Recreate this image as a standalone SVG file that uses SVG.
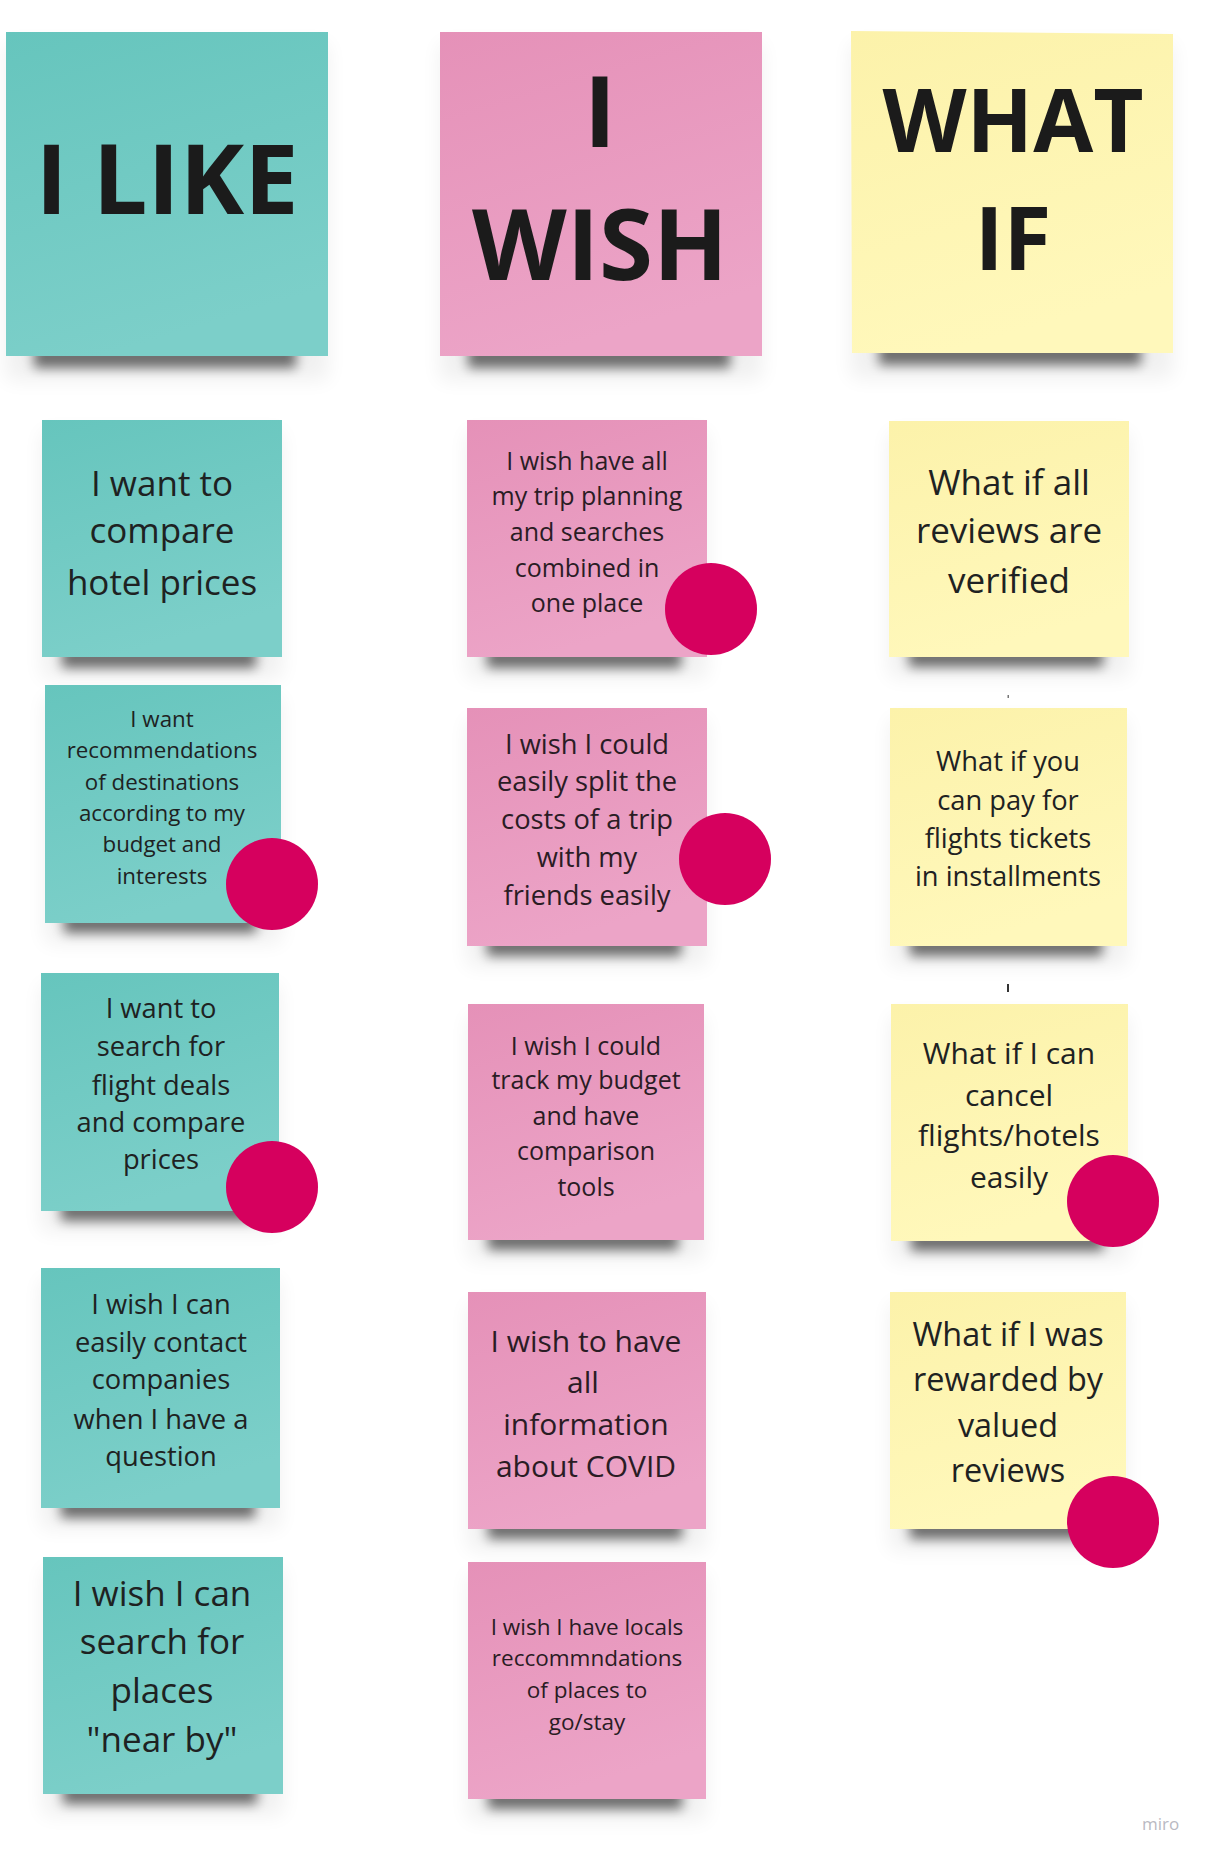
<svg xmlns="http://www.w3.org/2000/svg" width="1210" height="1859" viewBox="0 0 1210 1859">
  <defs>
    <linearGradient id="gTeal" x1="0" y1="0" x2="0.3" y2="1">
      <stop offset="0" stop-color="#66c5bd"/>
      <stop offset="1" stop-color="#7ccfc9"/>
    </linearGradient>
    <linearGradient id="gPink" x1="0" y1="0" x2="0.3" y2="1">
      <stop offset="0" stop-color="#e591b8"/>
      <stop offset="1" stop-color="#eca4c7"/>
    </linearGradient>
    <linearGradient id="gYellow" x1="0" y1="0" x2="0.3" y2="1">
      <stop offset="0" stop-color="#fcf2aa"/>
      <stop offset="1" stop-color="#fff8bb"/>
    </linearGradient>
    <filter id="fShadow" x="-20%" y="-150%" width="140%" height="400%">
      <feGaussianBlur stdDeviation="6"/>
    </filter>
    <filter id="fHalo" x="-30%" y="-30%" width="160%" height="160%">
      <feGaussianBlur stdDeviation="10"/>
    </filter>
  </defs>
  <style>
    .teal { fill: url(#gTeal); }
    .pink { fill: url(#gPink); }
    .yellow { fill: url(#gYellow); }
    .halo { fill: #000; opacity: 0.06; filter: url(#fHalo); }
    .shadow { fill: #000; opacity: 0.55; filter: url(#fShadow); }
    .dot { fill: #d6005e; }
    .head { font-family: "Open Sans", "Liberation Sans", sans-serif; font-weight: 700; fill: #1b1b1b; text-anchor: middle; }
    .txt { font-family: "Open Sans", "Liberation Sans", sans-serif; font-weight: 400; fill: #1e2222; text-anchor: middle; }
    .pt { fill: #2a1c24; }
    .wm { font-family: "Open Sans", "Liberation Sans", sans-serif; font-size: 17px; fill: #b9b9c2; }
  </style>
  <rect width="1210" height="1859" fill="#ffffff"/>

  <!-- Column headers -->
  <g id="head-like">
    <rect class="halo" x="6" y="44" width="322" height="336"/>
    <rect class="shadow" x="34" y="346" width="262" height="22"/>
    <rect class="teal" x="6" y="32" width="322" height="324"/>
    <text class="head" x="167" y="214" font-size="97">I LIKE</text>
  </g>
  <g id="head-wish">
    <rect class="halo" x="440" y="44" width="322" height="336"/>
    <rect class="shadow" x="468" y="346" width="262" height="22"/>
    <rect class="pink" x="440" y="32" width="322" height="324"/>
    <text class="head" x="600" y="147" font-size="98">I</text>
    <text class="head" x="600" y="280" font-size="98">WISH</text>
  </g>
  <g id="head-whatif">
    <rect class="halo" x="851" y="44" width="322" height="334"/>
    <rect class="shadow" x="879" y="343" width="262" height="22"/>
    <polygon class="yellow" points="851,31 1173,34 1173,353 852,353"/>
    <text class="head" x="1013" y="152" font-size="87">WHAT</text>
    <text class="head" x="1013" y="270" font-size="87">IF</text>
  </g>

  <!-- I LIKE column -->
  <g id="like-1">
    <rect class="halo" x="42" y="432" width="240" height="246"/>
    <rect class="shadow" x="62" y="648" width="194" height="20"/>
    <rect class="teal" x="42" y="420" width="240" height="237"/>
    <text class="txt" font-size="35"><tspan x="162" y="496">I want to</tspan><tspan x="162" y="543">compare</tspan><tspan x="162" y="595">hotel prices</tspan></text>
  </g>
  <g id="like-2">
    <rect class="halo" x="45" y="697" width="236" height="246"/>
    <rect class="shadow" x="64" y="913" width="192" height="20"/>
    <rect class="teal" x="45" y="685" width="236" height="238"/>
    <text class="txt" font-size="22.3"><tspan x="162" y="727">I want</tspan><tspan x="162" y="758">recommendations</tspan><tspan x="162" y="790">of destinations</tspan><tspan x="162" y="821">according to my</tspan><tspan x="162" y="852">budget and</tspan><tspan x="162" y="884">interests</tspan></text>
    <circle class="dot" cx="272" cy="884" r="46"/>
  </g>
  <g id="like-3">
    <rect class="halo" x="41" y="985" width="238" height="246"/>
    <rect class="shadow" x="61" y="1201" width="194" height="20"/>
    <rect class="teal" x="41" y="973" width="238" height="238"/>
    <text class="txt" font-size="27.3"><tspan x="161" y="1018">I want to</tspan><tspan x="161" y="1056">search for</tspan><tspan x="161" y="1095">flight deals</tspan><tspan x="161" y="1132">and compare</tspan><tspan x="161" y="1169">prices</tspan></text>
    <circle class="dot" cx="272" cy="1187" r="46"/>
  </g>
  <g id="like-4">
    <rect class="halo" x="41" y="1280" width="239" height="248"/>
    <rect class="shadow" x="61" y="1498" width="194" height="20"/>
    <rect class="teal" x="41" y="1268" width="239" height="240"/>
    <text class="txt" font-size="27.3"><tspan x="161" y="1314">I wish I can</tspan><tspan x="161" y="1352">easily contact</tspan><tspan x="161" y="1389">companies</tspan><tspan x="161" y="1429">when I have a</tspan><tspan x="161" y="1466">question</tspan></text>
  </g>
  <g id="like-5">
    <rect class="halo" x="43" y="1569" width="240" height="246"/>
    <rect class="shadow" x="63" y="1784" width="194" height="20"/>
    <rect class="teal" x="43" y="1557" width="240" height="237"/>
    <text class="txt" font-size="35"><tspan x="162" y="1606">I wish I can</tspan><tspan x="162" y="1654">search for</tspan><tspan x="162" y="1703">places</tspan><tspan x="162" y="1752">"near by"</tspan></text>
  </g>

  <!-- I WISH column -->
  <g id="wish-1">
    <rect class="halo" x="467" y="432" width="240" height="246"/>
    <rect class="shadow" x="487" y="648" width="194" height="20"/>
    <rect class="pink" x="467" y="420" width="240" height="237"/>
    <text class="txt pt" font-size="25"><tspan x="587" y="470">I wish have all</tspan><tspan x="587" y="505">my trip planning</tspan><tspan x="587" y="541">and searches</tspan><tspan x="587" y="577">combined in</tspan><tspan x="587" y="612">one place</tspan></text>
    <circle class="dot" cx="711" cy="609" r="46"/>
  </g>
  <g id="wish-2">
    <rect class="halo" x="467" y="720" width="240" height="246"/>
    <rect class="shadow" x="487" y="936" width="194" height="20"/>
    <rect class="pink" x="467" y="708" width="240" height="238"/>
    <text class="txt pt" font-size="27.3"><tspan x="587" y="754">I wish I could</tspan><tspan x="587" y="791">easily split the</tspan><tspan x="587" y="829">costs of a trip</tspan><tspan x="587" y="867">with my</tspan><tspan x="587" y="905">friends easily</tspan></text>
    <circle class="dot" cx="725" cy="859" r="46"/>
  </g>
  <g id="wish-3">
    <rect class="halo" x="468" y="1016" width="236" height="244"/>
    <rect class="shadow" x="488" y="1230" width="190" height="20"/>
    <rect class="pink" x="468" y="1004" width="236" height="236"/>
    <text class="txt pt" font-size="25"><tspan x="586" y="1055">I wish I could</tspan><tspan x="586" y="1089">track my budget</tspan><tspan x="586" y="1125">and have</tspan><tspan x="586" y="1160">comparison</tspan><tspan x="586" y="1196">tools</tspan></text>
  </g>
  <g id="wish-4">
    <rect class="halo" x="468" y="1304" width="238" height="246"/>
    <rect class="shadow" x="488" y="1519" width="194" height="20"/>
    <rect class="pink" x="468" y="1292" width="238" height="237"/>
    <text class="txt pt" font-size="30"><tspan x="586" y="1352">I wish to have</tspan><tspan x="583" y="1393">all</tspan><tspan x="586" y="1435">information</tspan><tspan x="586" y="1477">about COVID</tspan></text>
  </g>
  <g id="wish-5">
    <rect class="halo" x="468" y="1574" width="238" height="246"/>
    <rect class="shadow" x="488" y="1789" width="194" height="20"/>
    <rect class="pink" x="468" y="1562" width="238" height="237"/>
    <text class="txt pt" font-size="22.5"><tspan x="587" y="1635">I wish I have locals</tspan><tspan x="587" y="1666">reccommndations</tspan><tspan x="587" y="1698">of places to</tspan><tspan x="587" y="1730">go/stay</tspan></text>
  </g>

  <!-- WHAT IF column -->
  <g id="whatif-1">
    <rect class="halo" x="889" y="433" width="240" height="244"/>
    <rect class="shadow" x="909" y="647" width="194" height="20"/>
    <rect class="yellow" x="889" y="421" width="240" height="236"/>
    <text class="txt" font-size="35"><tspan x="1009" y="495">What if all</tspan><tspan x="1009" y="543">reviews are</tspan><tspan x="1009" y="593">verified</tspan></text>
  </g>
  <g id="whatif-2">
    <rect class="halo" x="890" y="720" width="237" height="246"/>
    <rect class="shadow" x="910" y="936" width="192" height="20"/>
    <rect class="yellow" x="890" y="708" width="237" height="238"/>
    <text class="txt" font-size="27.3"><tspan x="1008" y="771">What if you</tspan><tspan x="1008" y="810">can pay for</tspan><tspan x="1008" y="848">flights tickets</tspan><tspan x="1008" y="886">in installments</tspan></text>
  </g>
  <g id="whatif-3">
    <rect class="halo" x="891" y="1016" width="237" height="245"/>
    <rect class="shadow" x="911" y="1231" width="192" height="20"/>
    <rect class="yellow" x="891" y="1004" width="237" height="237"/>
    <text class="txt" font-size="30"><tspan x="1009" y="1064">What if I can</tspan><tspan x="1009" y="1106">cancel</tspan><tspan x="1009" y="1146">flights/hotels</tspan><tspan x="1009" y="1188">easily</tspan></text>
    <circle class="dot" cx="1113" cy="1201" r="46"/>
  </g>
  <g id="whatif-4">
    <rect class="halo" x="890" y="1304" width="236" height="246"/>
    <rect class="shadow" x="910" y="1519" width="192" height="20"/>
    <rect class="yellow" x="890" y="1292" width="236" height="237"/>
    <text class="txt" font-size="32.4"><tspan x="1008" y="1346">What if I was</tspan><tspan x="1008" y="1391">rewarded by</tspan><tspan x="1008" y="1437">valued</tspan><tspan x="1008" y="1482">reviews</tspan></text>
    <circle class="dot" cx="1113" cy="1522" r="46"/>
  </g>

  <!-- stray pen marks on the board -->
  <g id="marks">
    <rect x="1007.5" y="695" width="1.5" height="3" fill="#777"/>
    <rect x="1007" y="984" width="2" height="8" fill="#333"/>
  </g>

  <g id="connectors"></g>

  <text class="wm" x="1142" y="1830">miro</text>
</svg>
